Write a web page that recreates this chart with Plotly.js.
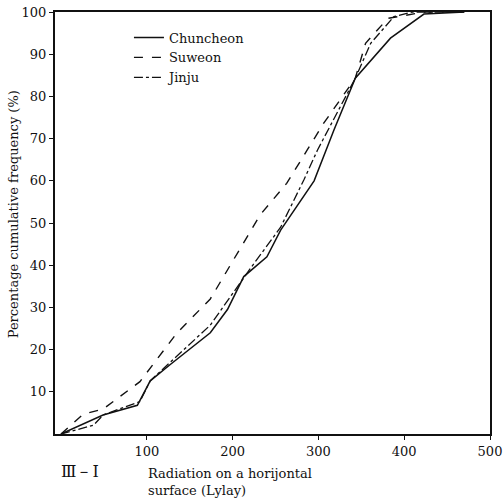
<!DOCTYPE html>
<html>
<head>
<meta charset="utf-8">
<script src="https://cdn.plot.ly/plotly-3.0.1.min.js"></script>
<style>html,body{margin:0;padding:0;background:#fff;}#chart{width:503px;height:503px;}</style>
</head>
<body>
<div id="chart"></div>
<script>
// Radiation on a horizontal surface (Ly/day) vs cumulative frequency (%)
const seriesNames = ["Chuncheon", "Suweon", "Jinju"];
const chunX = [0, 49, 89, 104, 127, 174, 194, 213, 240, 256, 295, 318, 343, 384, 423, 470];
const chunY = [0, 4.5, 6.8, 12.6, 16.4, 24, 29.5, 37.3, 42, 48.3, 60, 72, 84.3, 93.8, 99.5, 100];
const suwX = [0, 26, 49, 92, 135, 164, 174, 232, 263, 287, 306, 343, 355, 381, 424, 470];
const suwY = [0, 4.7, 5.9, 12.4, 23.9, 29.8, 32, 51.9, 59.4, 67.3, 73.6, 84.3, 92.6, 98.5, 100, 100];
const jinX = [0, 38, 49, 92, 104, 174, 221, 256, 283, 299, 343, 361, 388, 409, 470];
const jinY = [0, 2.1, 4.5, 7.7, 12.6, 25.8, 39.3, 49, 60.2, 67.3, 84.3, 92.6, 98.9, 100, 100];
const xTicks = [100, 200, 300, 400, 500];
const yTicks = [10, 20, 30, 40, 50, 60, 70, 80, 90, 100];

const serif = "'DejaVu Serif', 'Liberation Serif', serif";
const ink = "#111";

const traces = [
  {x: chunX, y: chunY, name: seriesNames[0], mode: "lines", line: {color: ink, width: 1.5, dash: "solid"}},
  {x: suwX, y: suwY, name: seriesNames[1], mode: "lines", line: {color: ink, width: 1.4, dash: "dash"}},
  {x: jinX, y: jinY, name: seriesNames[2], mode: "lines", line: {color: ink, width: 1.3, dash: "dashdot"}}
];

const layout = {
  width: 503, height: 503,
  margin: {l: 55, r: 13, t: 12, b: 69},
  paper_bgcolor: "#fff", plot_bgcolor: "#fff",
  font: {family: serif, color: ink, size: 13},
  showlegend: true,
  legend: {x: 0.17, y: 0.975, xanchor: "left", yanchor: "top", bgcolor: "rgba(0,0,0,0)",
           font: {family: serif, size: 13, color: ink}, tracegroupgap: 0, itemwidth: 30},
  xaxis: {range: [-7, 500], tickvals: xTicks, ticktext: xTicks.map(String),
          showgrid: false, zeroline: false, showline: true, mirror: true, linecolor: ink, linewidth: 2,
          ticks: "outside", ticklen: 4, tickcolor: ink, tickfont: {family: serif, size: 13, color: ink}},
  yaxis: {range: [0, 100], tickvals: yTicks, ticktext: yTicks.map(String),
          showgrid: false, zeroline: false, showline: true, mirror: true, linecolor: ink, linewidth: 2,
          ticks: "outside", ticklen: 4, tickcolor: ink, tickfont: {family: serif, size: 13, color: ink}},
  annotations: [
    {text: "Percentage cumulative frequency (%)", xref: "paper", yref: "paper", x: -0.095, y: 0.52,
     xanchor: "center", yanchor: "middle",
     textangle: -90, showarrow: false, font: {family: serif, size: 13, color: ink}},
    {text: "Ⅲ－Ⅰ", xref: "paper", yref: "paper", x: 0.01, y: -0.09, xanchor: "left", yanchor: "middle",
     showarrow: false, font: {family: serif, size: 16, color: ink}},
    {text: "Radiation on a horijontal<br>surface (Lylay)", xref: "paper", yref: "paper", x: 0.21, y: -0.07,
     xanchor: "left", yanchor: "top", align: "left", showarrow: false,
     font: {family: serif, size: 13, color: ink}}
  ]
};

Plotly.newPlot("chart", traces, layout, {staticPlot: true, displayModeBar: false});
</script>
</body>
</html>
